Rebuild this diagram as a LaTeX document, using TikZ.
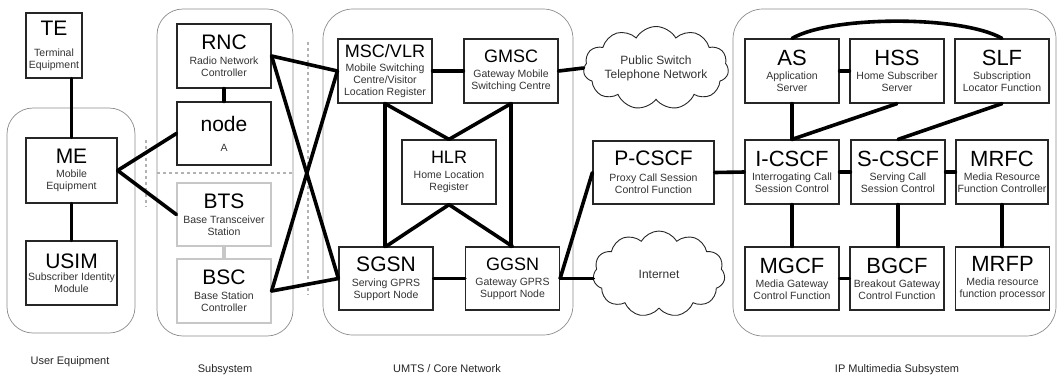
\documentclass[tikz,border=0pt]{standalone}
\usepackage{fontspec}
\setmainfont{Liberation Sans}
\usetikzlibrary{shapes.symbols}

% title line of a box, in its own (larger) size
\newcommand\boxtitle[2][21]{{\fontsize{#1}{#1}\selectfont\color{black}#2}}

\begin{document}
\begin{tikzpicture}[x=1pt,y=-1pt,
  box/.style={draw=black!85, line width=1.2pt, minimum width=94pt, minimum height=64pt,
    inner sep=0pt, align=center, text=black!80, font=\fontsize{10.5}{12}\selectfont},
  faint/.style={draw=black!22},
  group/.style={draw=black!45, line width=0.7pt, rounded corners=26pt},
  link/.style={line width=3.6pt, line cap=round, line join=round},
  sep/.style={draw=black!30, line width=1.4pt, dash pattern=on 3pt off 3pt},
  net/.style={cloud, cloud puffs=11, cloud puff arc=120, cloud ignores aspect,
    draw=black!85, line width=0.9pt, inner sep=0pt, align=center,
    font=\fontsize{12}{14}\selectfont, text=black!80},
  caption/.style={anchor=base, font=\fontsize{11}{13}\selectfont, text=black!85}
]
\useasboundingbox (0,0) rectangle (1059,376);
\fill[white] (0,0) rectangle (1059,376);

% subsystem frames
\draw[group] (7,108) rectangle (135,333);
\draw[group] (157,9) rectangle (293,336);
\draw[group, rounded corners=30pt] (323,9) rectangle (573,335);
\draw[group, rounded corners=30pt] (733,9) rectangle (1056,336);

% dashed separators
\draw[sep] (146,140) -- (146,207);
\draw[sep] (157,173) -- (293,173);
\draw[sep] (308,42) -- (308,295);

% user equipment
\node[box, minimum width=56pt, minimum height=65pt] (te) at (54,45.5)
  {\boxtitle{TE}\\[9pt]Terminal\\Equipment};
\node[box, minimum width=91pt, minimum height=65pt] (me) at (71.5,170.5)
  {\boxtitle{ME}\\[2.5pt]Mobile\\Equipment};
\node[box, minimum width=91pt] (usim) at (71.5,273)
  {\boxtitle{USIM}\\[0pt]Subscriber Identity\\Module};

% radio access
\node[box] (rnc) at (224,56) {\boxtitle{RNC}\\[3pt]Radio Network\\Controller};
\node[box, minimum height=63pt] (nodea) at (224,133.5) {\boxtitle{node}\\[8pt]A};
\node[box, faint, minimum height=63pt] (bts) at (224,214.5)
  {\boxtitle{BTS}\\[3pt]Base Transceiver\\Station};
\node[box, faint] (bsc) at (224,291) {\boxtitle{BSC}\\[3pt]Base Station\\Controller};

% core network
\node[box] (msc) at (385,71)
  {\boxtitle[18]{MSC/VLR}\\[2pt]Mobile Switching\\Centre/Visitor\\Location Register};
\node[box] (gmsc) at (511,71) {\boxtitle[18]{GMSC}\\[3pt]Gateway Mobile\\Switching Centre};
\node[box] (hlr) at (449,172) {\boxtitle[18]{HLR}\\[3pt]Home Location\\Register};
\node[box, minimum height=63pt] (sgsn) at (386,278.5)
  {\boxtitle{SGSN}\\[3pt]Serving GPRS\\Support Node};
\node[box, minimum height=63pt] (ggsn) at (512.5,278.5)
  {\boxtitle[18]{GGSN}\\[3pt]Gateway GPRS\\Support Node};

% external networks and proxy
\node[net, minimum width=133pt, minimum height=83pt] (pstn) at (656,68)
  {Public Switch\\Telephone Network};
\node[net, minimum width=132pt, minimum height=86pt] (inet) at (659,274) {Internet};
\node[box, minimum width=121pt, minimum height=63pt] (pcscf) at (653.5,172.5)
  {\boxtitle{P-CSCF}\\[4pt]Proxy Call Session\\Control Function};

% IP multimedia subsystem
\node[box] (as) at (792,71) {\boxtitle[22]{AS}\\[2pt]Application\\Server};
\node[box] (hss) at (897,71) {\boxtitle[22]{HSS}\\[2pt]Home Subscriber\\Server};
\node[box] (slf) at (1002,71) {\boxtitle[22]{SLF}\\[2pt]Subscription\\Locator Function};
\node[box] (icscf) at (792,172)
  {\boxtitle[22]{I-CSCF}\\[2pt]Interrogating Call\\Session Control};
\node[box] (scscf) at (898,172)
  {\boxtitle[22]{S-CSCF}\\[2pt]Serving Call\\Session Control};
\node[box, minimum width=92pt] (mrfc) at (1002,172)
  {\boxtitle[22]{MRFC}\\[2pt]Media Resource\\Function Controller};
\node[box, minimum height=63pt] (mgcf) at (792,278.5)
  {\boxtitle[22]{MGCF}\\[2pt]Media Gateway\\Control Function};
\node[box, minimum height=63pt] (bgcf) at (897,278.5)
  {\boxtitle[22]{BGCF}\\[2pt]Breakout Gateway\\Control Function};
\node[box, minimum height=63pt] (mrfp) at (1002.5,278.5)
  {\boxtitle[22]{MRFP}\\[2pt]Media resource\\function processor};

% links: user equipment and access
\draw[link] (me.north) -- (me.north |- te.south);
\draw[link] (me.south) -- (usim.north);
\draw[link] (me.east) -- (nodea.west);
\draw[link] (me.east) -- (bts.west);
\draw[link] (rnc.south) -- (nodea.north);
\draw[link, draw=black!22] (bts.south) -- (bsc.north);
\draw[link] (rnc.east) -- (msc.west);
\draw[link] (rnc.east) -- (sgsn.west);
\draw[link] (bsc.east) -- (msc.west);
\draw[link] (bsc.east) -- (sgsn.west);

% links: core
\draw[link] (msc.east) -- (gmsc.west);
\draw[link] (msc.south) -- (msc.south |- sgsn.north);
\draw[link] (msc.south) -- (hlr.north) -- (gmsc.south);
\draw[link] (gmsc.south) -- (gmsc.south |- ggsn.north);
\draw[link] (sgsn.north) -- (hlr.south) -- (ggsn.north);
\draw[link] (sgsn.east) -- (ggsn.west);
\draw[link] (gmsc.east) -- (pstn.west);
\draw[link] (ggsn.east) -- (inet.west |- ggsn.east);
\draw[link] (ggsn.east) -- (pcscf.west);
\draw[link] (pcscf.east) -- (icscf.west);

% links: IMS
\draw[link] (as.east) -- (hss.west);
\draw[link] (as.north) .. controls +(40,-23) and +(-40,-23) .. (slf.north);
\draw[link] (as.south) -- (icscf.north);
\draw[link] (hss.south) -- (icscf.north);
\draw[link] (slf.south) -- (scscf.north);
\draw[link] (icscf.east) -- (scscf.west);
\draw[link] (scscf.east) -- (mrfc.west);
\draw[link] (icscf.south) -- (mgcf.north);
\draw[link] (scscf.south) -- (scscf.south |- bgcf.north);
\draw[link] (mrfc.south) -- (mrfc.south |- mrfp.north);
\draw[link] (mgcf.east) -- (bgcf.west);

% subsystem captions
\node[caption] (cue) at (70,364) {User Equipment};
\node[caption] (csub) at (225,372) {Subsystem};
\node[caption] (ccore) at (447,372) {UMTS / Core Network};
\node[caption] (cims) at (897,372) {IP Multimedia Subsystem};
\end{tikzpicture}
\end{document}
